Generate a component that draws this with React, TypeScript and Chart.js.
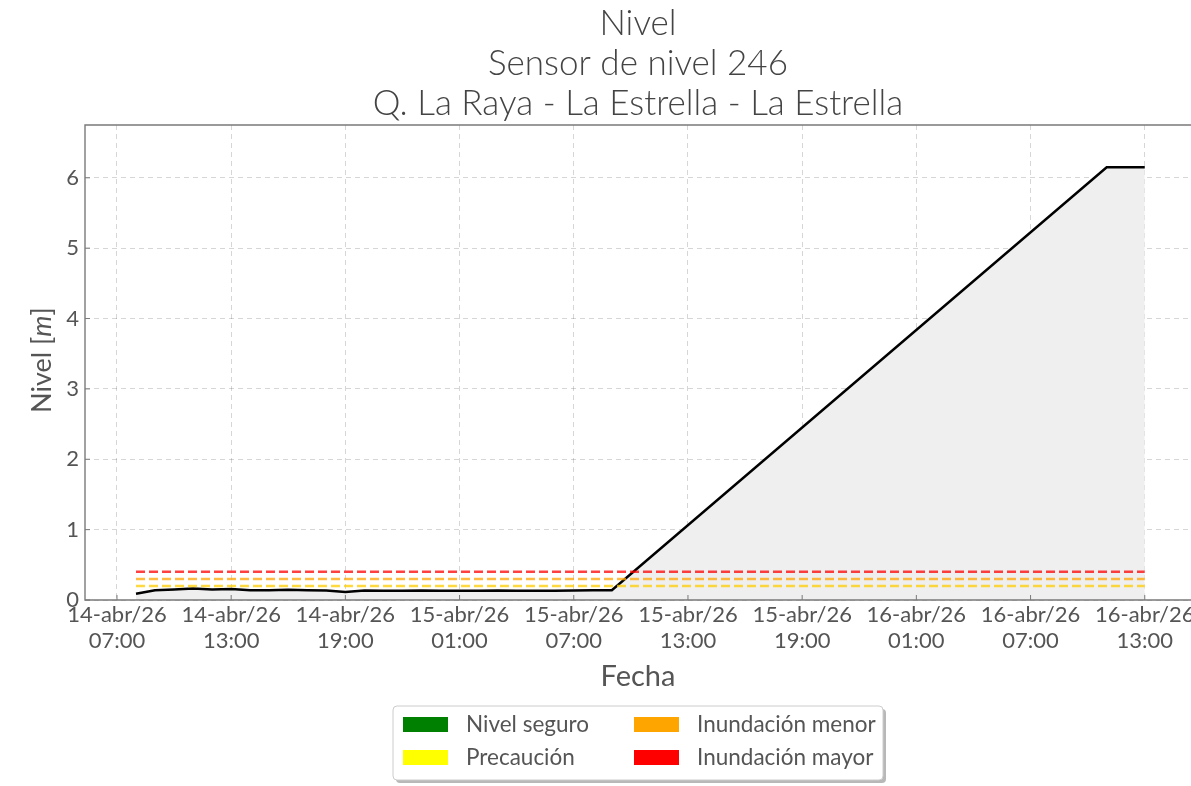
import React, { useEffect, useRef } from "react";
import { Chart, registerables } from "chart.js";

Chart.register(...registerables);

// ---------------- data ----------------
const T0 = "2026-04-14T07:00";

const TIMES: string[] = [
  "2026-04-14T08:00", "2026-04-14T09:00", "2026-04-14T10:00", "2026-04-14T11:00",
  "2026-04-14T12:00", "2026-04-14T13:00", "2026-04-14T14:00", "2026-04-14T15:00",
  "2026-04-14T16:00", "2026-04-14T17:00", "2026-04-14T18:00", "2026-04-14T19:00",
  "2026-04-14T20:00", "2026-04-14T21:00", "2026-04-14T22:00", "2026-04-14T23:00",
  "2026-04-15T00:00", "2026-04-15T01:00", "2026-04-15T02:00", "2026-04-15T03:00",
  "2026-04-15T04:00", "2026-04-15T05:00", "2026-04-15T06:00", "2026-04-15T07:00",
  "2026-04-15T08:00", "2026-04-15T09:00",
  "2026-04-16T11:00", "2026-04-16T12:00", "2026-04-16T13:00",
];

const NIVEL: number[] = [
  0.09, 0.14, 0.15, 0.165, 0.15, 0.155, 0.14, 0.14,
  0.145, 0.14, 0.135, 0.115, 0.135, 0.13, 0.13, 0.135,
  0.13, 0.13, 0.13, 0.135, 0.13, 0.13, 0.13, 0.135,
  0.14, 0.14,
  6.15, 6.15, 6.15,
];

const THRESHOLD_NAMES = ["Precaución", "Inundación menor", "Inundación mayor"];
const THRESHOLD_VALUES = [0.2, 0.3, 0.4];
const THRESHOLD_COLORS = ["rgba(255,204,0,0.75)", "rgba(255,165,0,0.75)", "rgba(255,0,0,0.75)"];

const X_TICK_TIMES = [
  "2026-04-14T07:00", "2026-04-14T13:00", "2026-04-14T19:00", "2026-04-15T01:00",
  "2026-04-15T07:00", "2026-04-15T13:00", "2026-04-15T19:00", "2026-04-16T01:00",
  "2026-04-16T07:00", "2026-04-16T13:00",
];
const X_TICK_DATES = [
  "14-abr/26", "14-abr/26", "14-abr/26", "15-abr/26", "15-abr/26",
  "15-abr/26", "15-abr/26", "16-abr/26", "16-abr/26", "16-abr/26",
];
const X_TICK_HOURS = [
  "07:00", "13:00", "19:00", "01:00", "07:00",
  "13:00", "19:00", "01:00", "07:00", "13:00",
];
const Y_TICKS = [0, 1, 2, 3, 4, 5, 6];

const LEGEND_LABELS = ["Nivel seguro", "Precaución", "Inundación menor", "Inundación mayor"];
const LEGEND_COLORS = ["#008000", "#ffff00", "#ffa500", "#ff0000"];

const TITLE_LINES = ["Nivel", "Sensor de nivel 246", "Q. La Raya - La Estrella - La Estrella"];

// ---------------- helpers ----------------
const hoursFrom = (t: string) => (Date.parse(t + ":00Z") - Date.parse(T0 + ":00Z")) / 3.6e6;

const FONT = "Lato, 'Noto Sans', 'DejaVu Sans', sans-serif";
const TEXT_COLOR = "#555555";
const X_MIN = -1.68;
const X_MAX = 56.43;
const Y_MAX = 6.75;

const framePlugin = {
  id: "frame",
  afterDatasetsDraw(chart: any) {
    const { ctx, chartArea: a } = chart;
    ctx.save();
    ctx.strokeStyle = "#7a7a7a";
    ctx.lineWidth = 1.4;
    ctx.setLineDash([]);
    ctx.beginPath();
    ctx.moveTo(a.right + 2, a.top);
    ctx.lineTo(a.left, a.top);
    ctx.lineTo(a.left, a.bottom);
    ctx.lineTo(a.right + 2, a.bottom);
    ctx.stroke();
    // inward ticks
    const xs = chart.scales.x;
    const ys = chart.scales.y;
    ctx.lineWidth = 1;
    ctx.beginPath();
    X_TICK_TIMES.forEach((t) => {
      const px = xs.getPixelForValue(hoursFrom(t));
      ctx.moveTo(px, a.bottom);
      ctx.lineTo(px, a.bottom - 5);
    });
    Y_TICKS.forEach((v) => {
      const py = ys.getPixelForValue(v);
      ctx.moveTo(a.left, py);
      ctx.lineTo(a.left + 5, py);
    });
    ctx.stroke();
    ctx.restore();
  },
};

const yTitlePlugin = {
  id: "ytitle",
  afterDraw(chart: any) {
    const { ctx } = chart;
    ctx.save();
    const normal = `400 27px ${FONT}`;
    const italic = `italic 400 27px ${FONT}`;
    const parts: [string, string][] = [["Nivel [", normal], ["m", italic], ["]", normal]];
    let total = 0;
    parts.forEach(([s, f]) => {
      ctx.font = f;
      total += ctx.measureText(s).width;
    });
    ctx.translate(42, 360);
    ctx.rotate(-Math.PI / 2);
    ctx.fillStyle = TEXT_COLOR;
    ctx.textBaseline = "middle";
    ctx.textAlign = "left";
    let x = -total / 2;
    parts.forEach(([s, f]) => {
      ctx.font = f;
      ctx.fillText(s, x, 0);
      x += ctx.measureText(s).width;
    });
    ctx.restore();
  },
};

const legendPlugin = {
  id: "customLegend",
  afterDraw(chart: any) {
    const { ctx } = chart;
    const bx = 393, by = 706, bw = 490, bh = 74;
    ctx.save();
    // shadow
    ctx.fillStyle = "rgba(0,0,0,0.28)";
    ctx.beginPath();
    (ctx as any).roundRect(bx + 3, by + 3, bw, bh, 4);
    ctx.fill();
    ctx.fillStyle = "#ffffff";
    ctx.strokeStyle = "#cccccc";
    ctx.lineWidth = 1;
    ctx.beginPath();
    (ctx as any).roundRect(bx, by, bw, bh, 4);
    ctx.fill();
    ctx.stroke();
    const rectX = [403, 634];
    const textX = [466, 697];
    const rowY = [717, 750];
    ctx.font = `400 22.5px ${FONT}`;
    ctx.textBaseline = "middle";
    ctx.textAlign = "left";
    LEGEND_LABELS.forEach((lab, i) => {
      const col = i < 2 ? 0 : 1;
      const row = i % 2;
      ctx.fillStyle = LEGEND_COLORS[i];
      ctx.fillRect(rectX[col], rowY[row], 45, 15);
      ctx.fillStyle = TEXT_COLOR;
      ctx.fillText(lab, textX[col], rowY[row] + 8);
    });
    ctx.restore();
  },
};

export default function App() {
  const ref = useRef<HTMLCanvasElement | null>(null);

  useEffect(() => {
    if (!ref.current) return;
    const xs = TIMES.map(hoursFrom);
    const x0 = xs[0];
    const x1 = xs[xs.length - 1];

    const datasets: any[] = [
      {
        label: "Nivel",
        data: xs.map((x, i) => ({ x, y: NIVEL[i] })),
        borderColor: "#000000",
        borderWidth: 2.5,
        backgroundColor: "#efefef",
        fill: "origin",
        pointRadius: 0,
        tension: 0,
        order: 2,
      },
      ...THRESHOLD_VALUES.map((v, i) => ({
        label: THRESHOLD_NAMES[i],
        data: [
          { x: x0, y: v },
          { x: x1, y: v },
        ],
        borderColor: THRESHOLD_COLORS[i],
        borderWidth: 2.5,
        borderDash: [9, 4],
        pointRadius: 0,
        fill: false,
        order: 1,
      })),
    ];

    const chart = new Chart(ref.current, {
      type: "line",
      data: { datasets },
      plugins: [framePlugin, yTitlePlugin, legendPlugin],
      options: {
        animation: false,
        responsive: false,
        layout: { padding: { left: 0, right: 0, top: 0, bottom: 91.6 } },
        plugins: {
          legend: { display: false },
          tooltip: { enabled: false },
          title: {
            display: true,
            text: TITLE_LINES,
            fullSize: false,
            color: "#444444",
            font: { family: FONT, size: 35, weight: "300" as any, lineHeight: 1.143 },
            padding: { top: 4, bottom: 1 },
          },
        },
        scales: {
          x: {
            type: "linear",
            min: X_MIN,
            max: X_MAX,
            afterBuildTicks: (s: any) => {
              s.ticks = X_TICK_TIMES.map((t) => ({ value: hoursFrom(t) }));
            },
            afterFit: (s: any) => {
              s.height = 94.4;
              s.paddingLeft = 0;
              s.paddingRight = 0;
            },
            ticks: {
              autoSkip: false,
              maxRotation: 0,
              minRotation: 0,
              padding: 2,
              color: TEXT_COLOR,
              font: { family: FONT, size: 22, weight: "400" as any, lineHeight: 1.18 },
              callback: (_v: any, i: number) => [X_TICK_DATES[i], X_TICK_HOURS[i]],
            },
            grid: { color: "rgba(0,0,0,0.16)", lineWidth: 1, drawTicks: false },
            border: { display: false, dash: [5, 4] },
            title: {
              display: true,
              text: "Fecha",
              color: TEXT_COLOR,
              font: { family: FONT, size: 29, weight: "400" as any, lineHeight: 1.2 },
              padding: { top: 0, bottom: 0 },
            },
          },
          y: {
            type: "linear",
            min: 0,
            max: Y_MAX,
            afterBuildTicks: (s: any) => {
              s.ticks = Y_TICKS.map((v) => ({ value: v }));
            },
            afterFit: (s: any) => {
              s.width = 85;
              s.paddingTop = 0;
              s.paddingBottom = 0;
            },
            ticks: {
              padding: 6,
              color: TEXT_COLOR,
              font: { family: FONT, size: 22, weight: "400" as any },
              callback: (v: any) => String(v),
            },
            grid: { color: "rgba(0,0,0,0.16)", lineWidth: 1, drawTicks: false },
            border: { display: false, dash: [5, 4] },
          },
        },
      },
    });
    return () => chart.destroy();
  }, []);

  return (
    <div style={{ position: "fixed", left: 0, top: 0, width: 1191, height: 786, background: "#fff" }}>
      <canvas ref={ref} width={1191} height={786} style={{ display: "block" }} />
    </div>
  );
}
